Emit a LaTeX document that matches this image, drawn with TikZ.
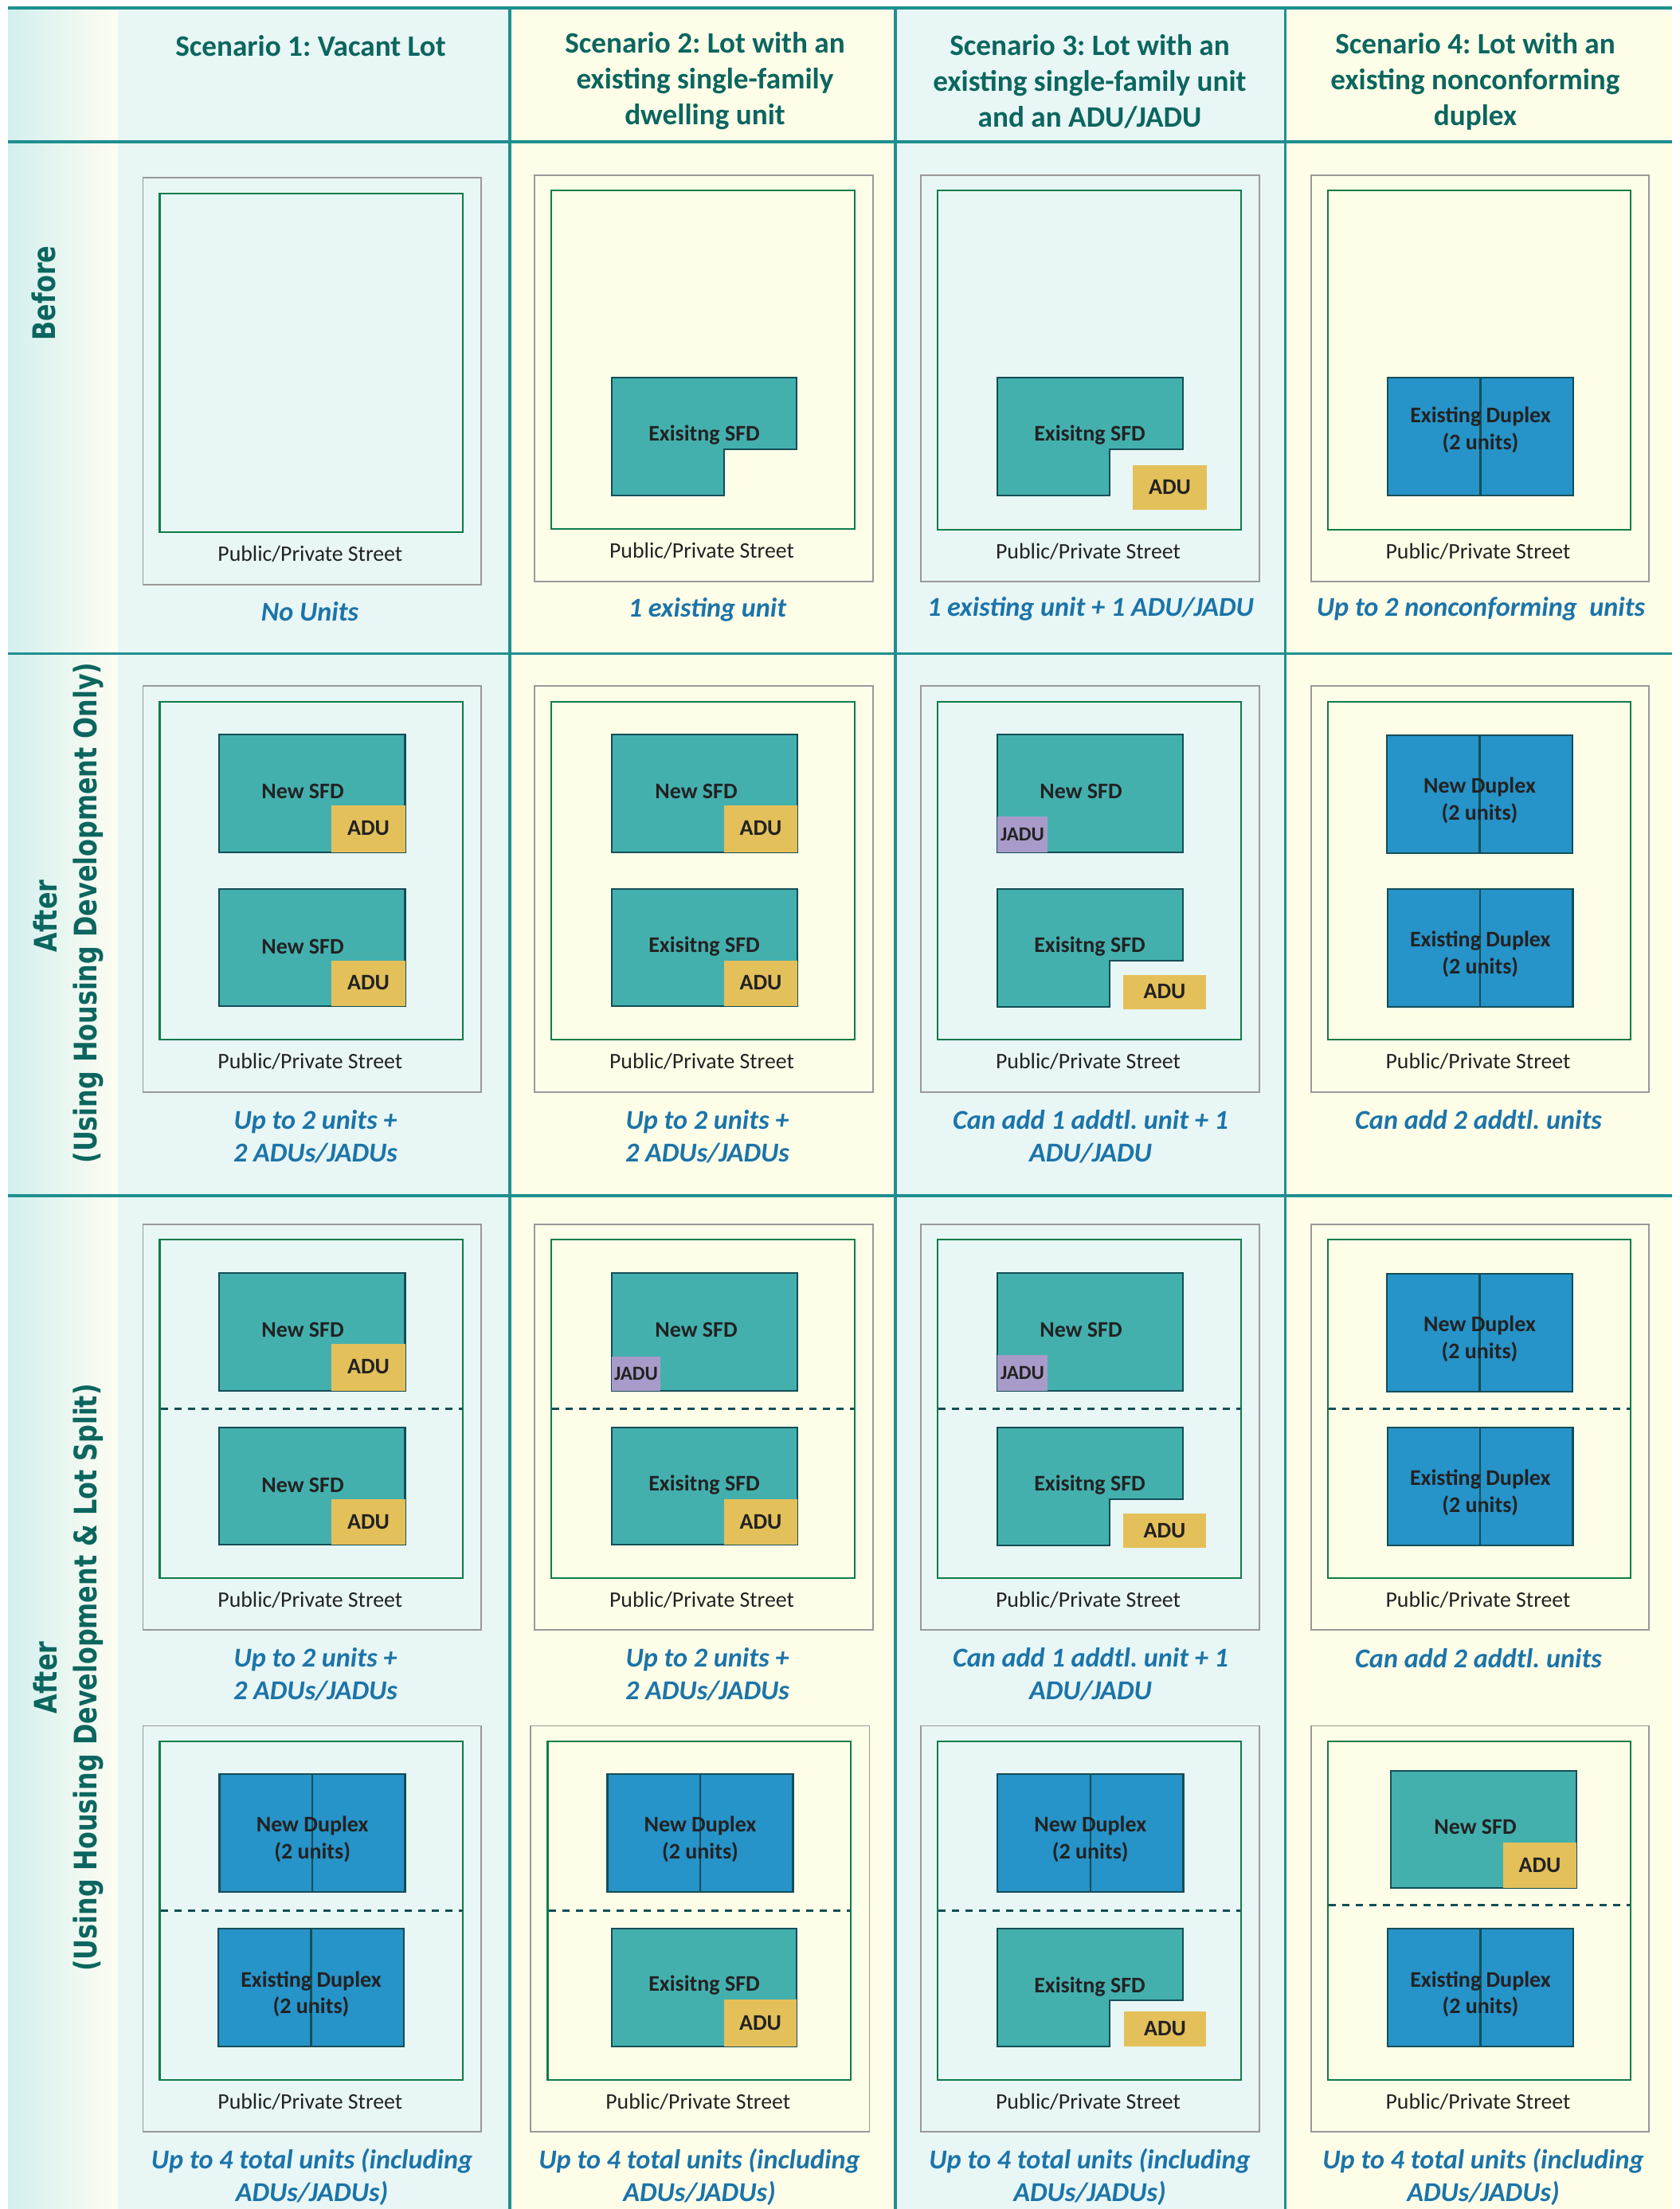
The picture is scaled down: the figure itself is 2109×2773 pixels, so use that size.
\documentclass[tikz,border=0pt]{standalone}
\usepackage{graphicx}
\usepackage{fontspec}
\setmainfont{Carlito}
\newfontfamily\sidefont{DejaVu Sans}
\AtBeginDocument{\frenchspacing}
\definecolor{cblue}{HTML}{E8F6F5}
\definecolor{cyell}{HTML}{FEFEE8}
\definecolor{rule}{HTML}{1F8F8F}
\definecolor{lotgreen}{HTML}{0E7C4A}
\definecolor{sfdfill}{HTML}{43B0AE}
\definecolor{bline}{HTML}{144E56}
\definecolor{dupfill}{HTML}{2693C9}
\definecolor{adufill}{HTML}{E4C05A}
\definecolor{jadufill}{HTML}{A99BC9}
\definecolor{headc}{HTML}{0B665F}
\definecolor{capc}{HTML}{1B74A9}
\definecolor{gradl}{HTML}{D3EFEF}
\definecolor{gradr}{HTML}{FEFDF2}
\definecolor{txt}{HTML}{222222}
\tikzset{
  gridline/.style={draw=rule,line width=3.2pt},
  siteline/.style={draw=black!40,line width=1.2pt},
  lotline/.style={draw=lotgreen,line width=2.8pt},
  bldg/.style={draw=bline,line width=2.8pt,fill=sfdfill},
  dupl/.style={draw=bline,line width=2.8pt,fill=dupfill},
  divline/.style={draw=bline,line width=2.2pt},
  splitline/.style={draw=bline,line width=3pt,dash pattern=on 9pt off 8pt},
  heading/.style={inner sep=0pt,align=center,text=headc,font=\fontsize{37.2}{45}\selectfont\bfseries},
  caption/.style={inner sep=0pt,align=center,text=capc,font=\fontsize{34.2}{41}\selectfont\bfseries\itshape},
  street/.style={inner sep=0pt,text=txt,font=\fontsize{27.8}{32}\selectfont},
  blabel/.style={inner sep=0pt,align=center,text=txt,font=\fontsize{28}{33.5}\selectfont\bfseries},
  jlabel/.style={inner sep=0pt,text=txt,font=\fontsize{25}{27}\selectfont\bfseries},
  sidelabel/.style={inner sep=0pt,rotate=90,text=headc,font=\fontsize{39}{45}\selectfont\sidefont\bfseries},
}
\newcommand{\sidetxt}[1]{\scalebox{0.815}[1]{#1}}
\newcount\nn
\newcommand{\nextn}{\global\advance\nn by 1\relax}
% gray x1 y1 x2 y2 ; green x1 y1 x2 y2
\newcommand{\Lot}[8]{%
  \draw[siteline] (#1,#2) rectangle (#3,#4);
  \draw[lotline] (#5,#6) rectangle (#7,#8);
  \pgfmathsetmacro{\sx}{(#1+#3)/2-2.5}\pgfmathsetmacro{\sy}{#8+27}%
  \nextn\node[street] (n\the\nn) at (\sx,\sy) {Public/Private Street};}
\newcommand{\SFD}[7]{%
  \draw[bldg] (#1,#2) rectangle (#3,#4);
  \nextn\node[blabel] (n\the\nn) at (#5,#6) {#7};}
\newcommand{\SFDn}[9]{%
  \draw[bldg] (#1,#2) -- (#3,#2) -- (#3,#6) -- (#5,#6) -- (#5,#4) -- (#1,#4) -- cycle;
  \nextn\node[blabel] (n\the\nn) at (#7,#8) {#9};}
\newcommand{\ADU}[4]{%
  \fill[adufill] (#1,#2) rectangle (#3,#4);
  \pgfmathsetmacro{\ax}{(#1+#3)/2}\pgfmathsetmacro{\ay}{(#2+#4)/2-0.5}%
  \nextn\node[blabel] (n\the\nn) at (\ax,\ay) {ADU};}
\newcommand{\JADU}[4]{%
  \fill[jadufill] (#1,#2) rectangle (#3,#4);
  \pgfmathsetmacro{\ax}{(#1+#3)/2}\pgfmathsetmacro{\ay}{(#2+#4)/2}%
  \nextn\node[jlabel] (n\the\nn) at (\ax,\ay) {JADU};}
\newcommand{\Dup}[6][8]{%
  \draw[dupl] (#2,#3) rectangle (#4,#5);
  \pgfmathsetmacro{\dx}{(#2+#4)/2}\pgfmathsetmacro{\dy}{(#3+#5)/2+#1}%
  \draw[divline] (\dx,#3) -- (\dx,#5);
  \nextn\node[blabel] (n\the\nn) at (\dx,\dy) {#6\\(2 units)};}
\newcommand{\Cap}[3]{\nextn\node[caption] (n\the\nn) at (#1,#2) {#3};}
\begin{document}
\begin{tikzpicture}[x=1pt,y=-1pt]
\useasboundingbox (0,0) rectangle (2109,2773);
\fill[white] (0,0) rectangle (2109,2773);
% backgrounds
\shade[left color=gradl,right color=gradr] (10,10) rectangle (148,2773);
\fill[cblue] (148,10) rectangle (640,2773);
\fill[cyell] (640,10) rectangle (1124,2773);
\fill[cblue] (1124,10) rectangle (1613.5,2773);
\fill[cyell] (1613.5,10) rectangle (2099,2773);
% grid
\foreach \yy in {10,178,820.5,1501} \draw[gridline] (10,\yy) -- (2099,\yy);
\foreach \xx in {640,1124,1613.5} \draw[gridline] (\xx,10) -- (\xx,2773);
% headings
\node[heading] (h1) at (390,57.7) {Scenario 1: Vacant Lot};
\node[heading] (h2) at (885,102) {Scenario 2: Lot with an\\existing single-family\\dwelling unit};
\node[heading] (h3) at (1368,102) {Scenario 3: Lot with an\\existing single-family unit\\and an ADU/JADU};
\node[heading] (h4) at (1852,102) {Scenario 4: Lot with an\\existing nonconforming\\duplex};
% side labels
\node[sidelabel] (s1) at (55,368) {\sidetxt{Before}};
\node[sidelabel] (s2a) at (57,1150) {\sidetxt{After}};
\node[sidelabel] (s2b) at (111,1146) {\sidetxt{(Using Housing Development Only)}};
\node[sidelabel] (s3a) at (57,2106) {\sidetxt{After}};
\node[sidelabel] (s3b) at (111,2106) {\sidetxt{(Using Housing Development \& Lot Split)}};
% ---- Before
\Lot{179.6}{223}{604}{734}{200.6}{243}{581}{668}
\Cap{389}{768}{No Units}
\Lot{671}{220}{1096}{730}{692}{239}{1073}{664}
\SFDn{768}{474}{1000}{622}{909}{564}{884}{546.5}{Exisitng SFD}
\Cap{888}{765.5}{1 existing unit}
\Lot{1156}{220}{1581}{730}{1177}{239}{1558}{665}
\SFDn{1252}{474}{1485}{622}{1393}{564}{1368}{546.5}{Exisitng SFD}
\ADU{1422}{584}{1515}{640}
\Cap{1369}{764.5}{1 existing unit + 1 ADU/JADU}
\Lot{1646}{220}{2070}{730}{1667}{239}{2047}{665}
\Dup[-8]{1742}{474}{1975}{622}{Existing Duplex}
\Cap{1859}{764.5}{Up to 2 nonconforming~ units}
% ---- After: housing development only
\Lot{179.6}{861}{604}{1371}{200.6}{881}{581}{1305}
\SFD{275}{922}{508.5}{1070}{380}{993}{New SFD}
\ADU{416}{1011}{509}{1070}
\SFD{275}{1116}{508.5}{1263}{380}{1188}{New SFD}
\ADU{416}{1206}{509}{1263}
\Cap{396}{1426.5}{Up to 2 units +\\2 ADUs/JADUs}
\Lot{671}{861}{1096}{1371}{692}{881}{1073}{1305}
\SFD{768}{922}{1001}{1070}{874}{993}{New SFD}
\ADU{909}{1011}{1001}{1070}
\SFD{768}{1116}{1001}{1263}{884}{1188}{Exisitng SFD}
\ADU{909}{1206}{1001}{1263}
\Cap{888}{1426.5}{Up to 2 units +\\2 ADUs/JADUs}
\Lot{1156}{861}{1581}{1371}{1177}{881}{1558}{1305}
\SFD{1252}{922}{1485}{1070}{1357}{993}{New SFD}
\JADU{1252}{1025}{1315}{1070}
\SFDn{1252}{1116}{1485}{1264}{1393}{1206}{1368}{1188}{Exisitng SFD}
\ADU{1410}{1224}{1514}{1267}
\Cap{1369}{1426.5}{Can add 1 addtl. unit + 1\\ADU/JADU}
\Lot{1646}{861}{2070}{1371}{1667}{881}{2047}{1305}
\Dup{1741}{923}{1974}{1071}{New Duplex}
\Dup{1742}{1116}{1974.5}{1264}{Existing Duplex}
\Cap{1856}{1406}{Can add 2 addtl. units}
% ---- After: lot split, first row
\Lot{179.6}{1537}{604}{2046}{200.6}{1556}{581}{1981}
\SFD{275}{1598}{508.5}{1746}{380}{1669}{New SFD}
\ADU{416}{1687}{509}{1746}
\draw[splitline] (202,1768) -- (580,1768);
\SFD{275}{1792}{508.5}{1939}{380}{1864}{New SFD}
\ADU{416}{1882}{509}{1939}
\Cap{396}{2102}{Up to 2 units +\\2 ADUs/JADUs}
\Lot{671}{1537}{1096}{2046}{692}{1556}{1073}{1981}
\SFD{768}{1598}{1001}{1746}{874}{1669}{New SFD}
\JADU{768}{1703}{829}{1746}
\draw[splitline] (693,1768) -- (1072,1768);
\SFD{768}{1792}{1001}{1939}{884}{1864}{Exisitng SFD}
\ADU{909}{1882}{1001}{1939}
\Cap{888}{2102}{Up to 2 units +\\2 ADUs/JADUs}
\Lot{1156}{1537}{1581}{2046}{1177}{1556}{1558}{1981}
\SFD{1252}{1598}{1485}{1746}{1357}{1669}{New SFD}
\JADU{1252}{1701}{1315}{1746}
\draw[splitline] (1178,1768) -- (1557,1768);
\SFDn{1252}{1792}{1485}{1940}{1393}{1882}{1368}{1864}{Exisitng SFD}
\ADU{1410}{1900}{1514}{1943}
\Cap{1369}{2102}{Can add 1 addtl. unit + 1\\ADU/JADU}
\Lot{1646}{1537}{2070}{2046}{1667}{1556}{2047}{1981}
\Dup{1741}{1599}{1974}{1747}{New Duplex}
\draw[splitline] (1668,1768) -- (2046,1768);
\Dup{1742}{1792}{1974.5}{1940}{Existing Duplex}
\Cap{1856}{2082}{Can add 2 addtl. units}
% ---- After: lot split, second row
\Lot{179.6}{2166.5}{604}{2676}{200.6}{2186}{581}{2611}
\Dup{275.7}{2227}{508.6}{2375}{New Duplex}
\draw[splitline] (202,2398) -- (580,2398);
\Dup{274}{2421}{507}{2569}{Existing Duplex}
\Cap{391.5}{2732.5}{Up to 4 total units (including\\ADUs/JADUs)}
\Lot{666}{2166.5}{1091.5}{2676}{687.5}{2186}{1068}{2611}
\Dup{762.5}{2227}{995.5}{2375}{New Duplex}
\draw[splitline] (689,2398) -- (1067,2398);
\SFD{768}{2421}{1000}{2569}{884}{2492}{Exisitng SFD}
\ADU{909}{2510}{1000}{2569}
\Cap{878}{2732.5}{Up to 4 total units (including\\ADUs/JADUs)}
\Lot{1156}{2166.5}{1581}{2676}{1177}{2186}{1558}{2611}
\Dup{1252}{2227}{1485.5}{2375}{New Duplex}
\draw[splitline] (1178,2398) -- (1557,2398);
\SFDn{1252}{2421}{1485}{2569}{1393}{2511}{1368}{2494}{Exisitng SFD}
\ADU{1411}{2525}{1514}{2569}
\Cap{1368}{2732.5}{Up to 4 total units (including\\ADUs/JADUs)}
\Lot{1646}{2166.5}{2070}{2676}{1667}{2186}{2047}{2611}
\SFD{1746}{2223}{1979}{2370}{1852}{2293}{New SFD}
\ADU{1887}{2313}{1979}{2370}
\draw[splitline] (1668,2391) -- (2046,2391);
\Dup{1742}{2421}{1975}{2569}{Existing Duplex}
\Cap{1862}{2732.5}{Up to 4 total units (including\\ADUs/JADUs)}
\end{tikzpicture}
\end{document}
